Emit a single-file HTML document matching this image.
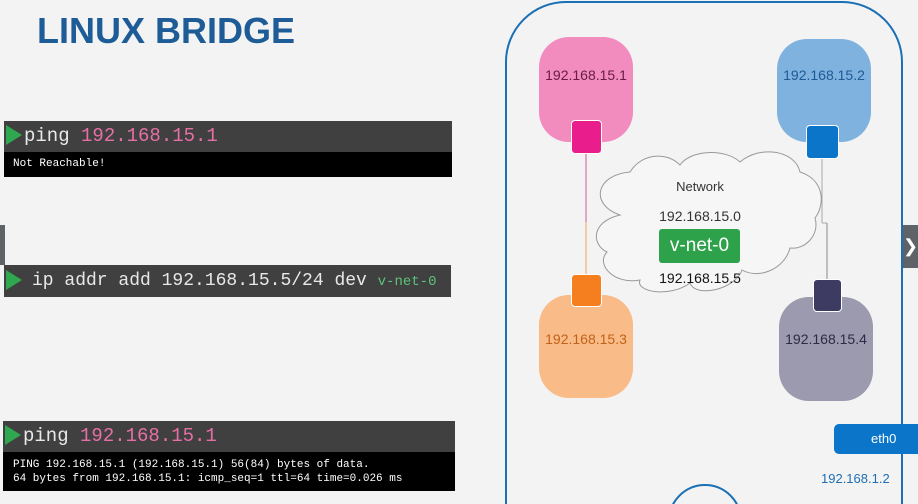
<!DOCTYPE html>
<html style="width:918px;height:504px;overflow:hidden"><head><meta charset="utf-8"><style>
html,body{margin:0;width:918px;height:504px;overflow:hidden}
body{background:#f3f3f3;font-family:"Liberation Sans",sans-serif;position:relative}
#clip{position:absolute;left:0;top:0;width:918px;height:504px;overflow:hidden}
.a{position:absolute;white-space:nowrap}
.mono{font-family:"Liberation Mono",monospace}
.hd{background:#404040;color:#e8e8e8;font-size:19px;line-height:31px}
.out{background:#000;color:#fff;font-size:11px}
.tri{position:absolute;left:2px;top:4px;width:0;height:0;border-top:10px solid transparent;border-bottom:10px solid transparent;border-left:16px solid #2fa84f}
.t{font-size:14px;text-align:center}
</style></head><body><div id="clip">
<div class="a" style="left:37px;top:10px;font-size:36px;font-weight:bold;color:#1d5c97">LINUX BRIDGE</div>

<div class="a hd mono" style="left:4px;top:121px;width:448px;height:31px"><div class="tri"></div><span style="margin-left:20px">ping <span style="color:#e76fa6">192.168.15.1</span></span></div>
<div class="a out mono" style="left:4px;top:152px;width:448px;height:25px;line-height:24px"><span style="margin-left:9px">Not Reachable!</span></div>

<div class="a" style="left:0;top:225px;width:5px;height:40px;background:#5f6368"></div>
<div class="a hd mono" style="left:4px;top:265px;width:447px;height:32px;line-height:32px;overflow:hidden;font-size:18px"><div class="tri" style="top:5px"></div><span style="margin-left:28px">ip addr add 192.168.15.5/24 dev <span style="color:#5cc27a;font-size:14px">v-net-0</span></span></div>

<div class="a hd mono" style="left:3px;top:421px;width:452px;height:31px"><div class="tri"></div><span style="margin-left:20px">ping <span style="color:#e76fa6">192.168.15.1</span></span></div>
<div class="a out mono" style="left:3px;top:452px;width:452px;height:39px;line-height:14px;padding-top:6px;box-sizing:border-box"><div style="margin-left:10px">PING 192.168.15.1 (192.168.15.1) 56(84) bytes of data.<br>64 bytes from 192.168.15.1: icmp_seq=1 ttl=64 time=0.026 ms</div></div>

<svg class="a" style="left:0;top:0" width="918" height="504">
<path d="M506,504 L506,62 A60,60 0 0 1 566,2 L842,2 A60,60 0 0 1 902,62 L902,504" fill="none" stroke="#1a6fb5" stroke-width="2"/>
<circle cx="705" cy="521" r="36" fill="none" stroke="#1a6fb5" stroke-width="2"/>
<line x1="586" y1="152" x2="586" y2="222" stroke="#d45a9a" stroke-width="1"/>
<line x1="586" y1="222" x2="586" y2="276" stroke="#f3a35a" stroke-width="1"/>
<line x1="822" y1="157" x2="822" y2="223" stroke="#aaa" stroke-width="1"/>
<line x1="822" y1="223" x2="827" y2="223" stroke="#aaa" stroke-width="1"/>
<line x1="827" y1="223" x2="827" y2="280" stroke="#888" stroke-width="1"/>
<path d="M620,215 C590,205 595,175 630,172 C640,155 665,150 680,165 C690,150 725,148 740,162 C760,145 795,150 800,172 C825,180 825,205 815,218 C820,235 805,250 790,248 C785,268 760,280 742,270 C735,290 695,298 690,283 C670,298 635,292 640,280 C615,285 595,265 607,252 C592,245 590,222 620,215 Z" fill="#f6f6f6" stroke="#999" stroke-width="1"/>
</svg>

<div class="a" style="left:539px;top:37px;width:94px;height:105px;background:#f28cbf;border-radius:30px"></div>
<div class="a t" style="left:539px;top:67px;width:94px;color:#6a1a45">192.168.15.1</div>
<div class="a" style="left:571px;top:120px;width:29px;height:32px;background:#e91e8c;border:1px solid #fff;border-radius:4px"></div>

<div class="a" style="left:777px;top:39px;width:94px;height:103px;background:#7fb2de;border-radius:30px"></div>
<div class="a t" style="left:777px;top:67px;width:94px;color:#1e5a96">192.168.15.2</div>
<div class="a" style="left:806px;top:125px;width:31px;height:32px;background:#0b75c9;border:1px solid #fff;border-radius:4px"></div>

<div class="a" style="left:539px;top:295px;width:94px;height:103px;background:#f9bb87;border-radius:30px"></div>
<div class="a t" style="left:539px;top:331px;width:94px;color:#c2621a">192.168.15.3</div>
<div class="a" style="left:571px;top:274px;width:29px;height:31px;background:#f57f1f;border:1px solid #fff;border-radius:4px"></div>

<div class="a" style="left:779px;top:297px;width:94px;height:104px;background:#9b9aae;border-radius:30px"></div>
<div class="a t" style="left:779px;top:331px;width:94px;color:#2d2b45">192.168.15.4</div>
<div class="a" style="left:813px;top:279px;width:27px;height:31px;background:#3e3b63;border:1px solid #fff;border-radius:4px"></div>

<div class="a" style="left:650px;top:179px;width:100px;text-align:center;font-size:13px;color:#333">Network</div>
<div class="a" style="left:640px;top:208px;width:120px;text-align:center;font-size:14px;color:#333">192.168.15.0</div>
<div class="a" style="left:659px;top:229px;width:81px;height:34px;background:#2ea24b;border-radius:3px;color:#fff;font-size:19px;line-height:34px;text-align:center">v-net-0</div>
<div class="a" style="left:640px;top:270px;width:120px;text-align:center;font-size:14px;color:#111">192.168.15.5</div>

<div class="a" style="left:834px;top:424px;width:84px;height:30px;background:#0b75c9;border-radius:5px 0 0 5px;color:#fff;font-size:13px;line-height:30px;text-indent:37px">eth0</div>
<div class="a" style="left:821px;top:471px;font-size:13px;color:#1e6fb5">192.168.1.2</div>

<div class="a" style="left:903px;top:225px;width:15px;height:43px;background:#5f6368;color:#fff;font-size:18px;line-height:43px;text-align:right">&#10095;</div>
</div></body></html>
